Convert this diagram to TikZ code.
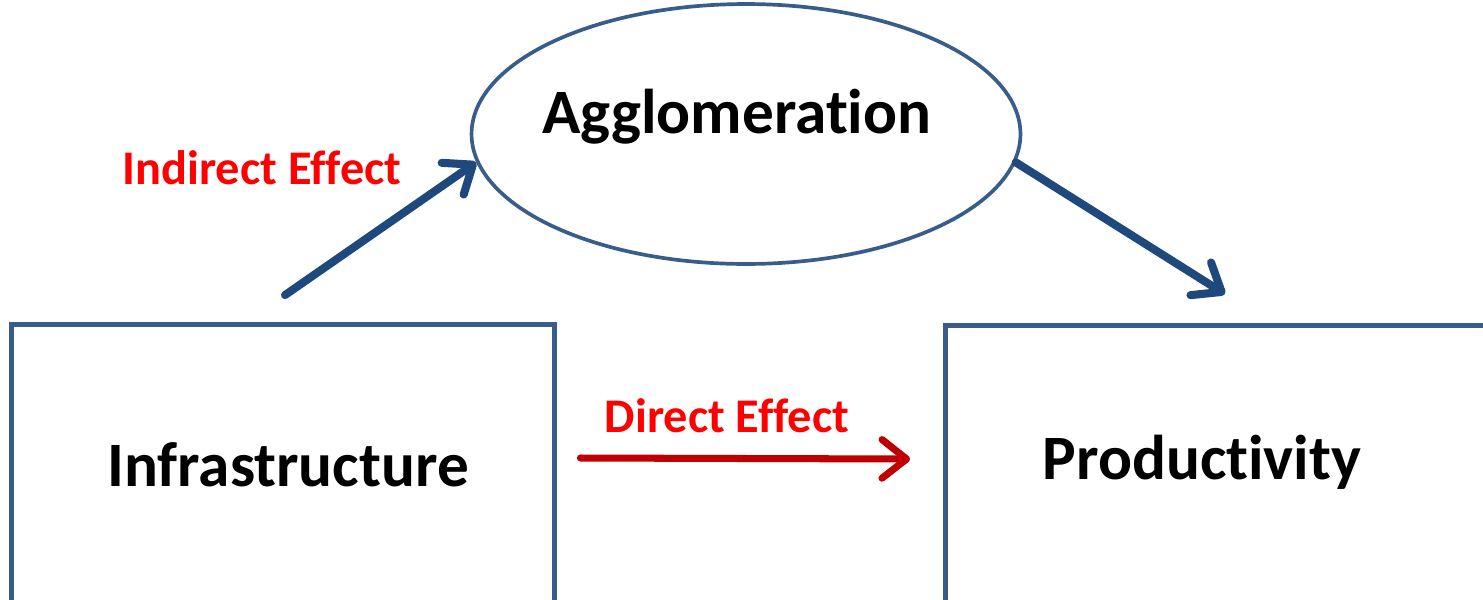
\documentclass[tikz,border=0pt]{standalone}
\usepackage{fontspec}
\setmainfont{Carlito}[Ligatures=NoCommon]
\usetikzlibrary{arrows.meta,shapes.geometric}
\definecolor{boxblue}{RGB}{56,93,138}
\definecolor{arrowblue}{RGB}{31,73,125}
\definecolor{darkred}{RGB}{192,0,0}
\begin{document}
\begin{tikzpicture}[x=0.02cm,y=-0.02cm,
    box/.style={draw=boxblue,line width=2.8pt,inner sep=0pt},
    bigtext/.style={font=\fontsize{36}{40}\selectfont\bfseries,inner sep=0pt},
    efftext/.style={text=red,font=\fontsize{27.5}{30}\selectfont\bfseries,inner sep=0pt},
    effarrow/.style={line width=4.6pt,line cap=round,
      -{Straight Barb[line cap=round,line join=round,length=14pt,width=22pt]}}]
  \clip (0,0) rectangle (1483,599);
  \node[box,minimum width=10.88cm,minimum height=5.62cm] (inf) at (283,465) {};
  \node[box,minimum width=11.5cm,minimum height=5.62cm] (prod) at (1233,466) {};
  \node[box,ellipse,line width=2.1pt,minimum width=10.98cm,minimum height=5.2cm] (agg) at (746,134) {};
  \node[bigtext] (inftext) at (288,465) {Infrastructure};
  \node[bigtext] (prodtext) at (1202,462) {Productivity};
  \node[bigtext] (aggtext) at (737,117) {Agglomeration};
  \node[efftext] (indlabel) at (262,168) {Indirect Effect};
  \node[efftext] (dirlabel) at (727,416) {Direct Effect};
  \coordinate (indstart) at ([shift={(2,-27)}]inf.north);
  \coordinate (dirtip) at ([shift={(-8,-29)}]prod.north);
  \begin{scope}[draw=arrowblue]
    \draw[effarrow] (indstart) -- (agg.186);
    \draw[effarrow] (agg.354) -- (dirtip);
  \end{scope}
  \draw[effarrow,draw=darkred,line width=4pt] ([shift={(23,-7)}]inf.east) -- ([shift={(-33,-7)}]prod.west);
\end{tikzpicture}
\end{document}
